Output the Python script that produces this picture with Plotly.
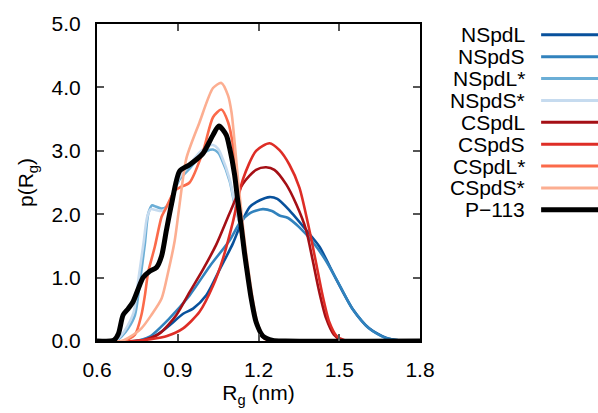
import plotly.graph_objects as go

# ---------------- data ----------------
series_names = ["NSpdL", "NSpdS", "NSpdL*", "NSpdS*", "CSpdL", "CSpdS", "CSpdL*", "CSpdS*", "P\u2212113"]
series_colors = ["#08519c", "#3182bd", "#6baed6", "#c6dbef", "#a50f15", "#de2d26", "#fb6a4a", "#fcae91", "#000000"]
series_widths = [2.6, 2.6, 2.6, 2.6, 2.6, 2.6, 2.6, 2.6, 5.0]

nspdl_x = [0.60, 0.75, 0.80, 0.84, 0.87, 0.92, 0.957, 1.006, 1.056, 1.105, 1.13, 1.167, 1.205, 1.241, 1.27, 1.315, 1.377, 1.426, 1.488, 1.549, 1.611, 1.673, 1.72, 1.80]
nspdl_y = [0.00, 0.00, 0.05, 0.15, 0.25, 0.43, 0.51, 0.72, 1.13, 1.54, 1.80, 2.11, 2.22, 2.27, 2.24, 2.06, 1.75, 1.49, 0.98, 0.51, 0.20, 0.05, 0.01, 0.00]

nspds_x = [0.60, 0.74, 0.796, 0.87, 0.944, 1.019, 1.093, 1.13, 1.17, 1.216, 1.25, 1.278, 1.31, 1.35, 1.40, 1.45, 1.50, 1.55, 1.61, 1.67, 1.72, 1.80]
nspds_y = [0.00, 0.00, 0.07, 0.36, 0.72, 1.18, 1.59, 1.86, 2.02, 2.08, 2.05, 1.98, 1.94, 1.80, 1.57, 1.27, 0.89, 0.50, 0.20, 0.05, 0.01, 0.00]

nspdls_x = [0.60, 0.67, 0.691, 0.716, 0.741, 0.759, 0.778, 0.79, 0.805, 0.818, 0.84, 0.858, 0.88, 0.907, 0.944, 0.98, 1.01, 1.031, 1.05, 1.062, 1.093, 1.111, 1.13, 1.15, 1.17, 1.19, 1.21, 1.24, 1.80]
nspdls_y = [0.00, 0.00, 0.07, 0.20, 0.41, 0.92, 1.54, 2.00, 2.14, 2.12, 2.09, 2.12, 2.30, 2.55, 2.72, 2.90, 3.00, 3.02, 2.97, 2.88, 2.52, 2.16, 1.85, 1.30, 0.75, 0.35, 0.12, 0.02, 0.00]

nspdss_x = [0.60, 0.665, 0.686, 0.711, 0.736, 0.754, 0.773, 0.786, 0.80, 0.815, 0.84, 0.858, 0.88, 0.907, 0.944, 0.98, 1.01, 1.031, 1.05, 1.062, 1.093, 1.111, 1.13, 1.15, 1.17, 1.19, 1.21, 1.24, 1.80]
nspdss_y = [0.00, 0.00, 0.07, 0.22, 0.45, 0.98, 1.55, 1.95, 2.08, 2.07, 2.05, 2.10, 2.30, 2.58, 2.78, 2.97, 3.07, 3.09, 3.03, 2.93, 2.55, 2.18, 1.86, 1.30, 0.75, 0.35, 0.12, 0.02, 0.00]

cspdl_x = [0.60, 0.74, 0.778, 0.833, 0.895, 0.944, 0.994, 1.043, 1.093, 1.142, 1.191, 1.228, 1.259, 1.303, 1.34, 1.377, 1.401, 1.426, 1.451, 1.48, 1.51, 1.80]
cspdl_y = [0.00, 0.00, 0.02, 0.12, 0.41, 0.77, 1.13, 1.52, 2.02, 2.48, 2.70, 2.74, 2.70, 2.47, 2.16, 1.75, 1.28, 0.77, 0.36, 0.10, 0.01, 0.00]

cspds_x = [0.60, 0.74, 0.80, 0.86, 0.92, 0.981, 1.031, 1.068, 1.105, 1.142, 1.191, 1.241, 1.278, 1.315, 1.352, 1.389, 1.414, 1.438, 1.463, 1.49, 1.52, 1.80]
cspds_y = [0.00, 0.00, 0.03, 0.08, 0.20, 0.46, 0.87, 1.30, 1.88, 2.55, 3.00, 3.12, 3.01, 2.78, 2.42, 1.75, 1.23, 0.72, 0.30, 0.08, 0.01, 0.00]

cspdls_x = [0.60, 0.70, 0.741, 0.765, 0.778, 0.79, 0.815, 0.84, 0.852, 0.889, 0.907, 0.944, 0.994, 1.031, 1.062, 1.087, 1.105, 1.12, 1.135, 1.15, 1.165, 1.18, 1.20, 1.225, 1.80]
cspdls_y = [0.00, 0.00, 0.10, 0.41, 0.72, 1.08, 1.49, 1.96, 2.06, 2.37, 2.42, 2.50, 2.99, 3.53, 3.65, 3.45, 3.09, 2.50, 1.90, 1.35, 0.90, 0.50, 0.18, 0.03, 0.00]

cspdss_x = [0.60, 0.69, 0.716, 0.765, 0.802, 0.84, 0.864, 0.889, 0.907, 0.932, 0.981, 1.031, 1.062, 1.087, 1.10, 1.112, 1.125, 1.14, 1.152, 1.165, 1.178, 1.195, 1.22, 1.245, 1.80]
cspdss_y = [0.00, 0.00, 0.05, 0.20, 0.41, 0.67, 1.08, 1.59, 2.16, 2.88, 3.45, 3.99, 4.07, 3.87, 3.60, 3.10, 2.50, 1.90, 1.45, 1.05, 0.68, 0.30, 0.07, 0.01, 0.00]

p113_x = [0.60, 0.65, 0.665, 0.68, 0.697, 0.716, 0.734, 0.753, 0.771, 0.796, 0.821, 0.84, 0.858, 0.877, 0.907, 0.944, 0.994, 1.031, 1.053, 1.08, 1.093, 1.111, 1.123, 1.136, 1.148, 1.16, 1.173, 1.191, 1.216, 1.253, 1.30, 1.80]
p113_y = [0.00, 0.00, 0.02, 0.12, 0.41, 0.51, 0.62, 0.82, 1.00, 1.10, 1.16, 1.34, 1.75, 2.16, 2.68, 2.78, 2.96, 3.25, 3.39, 3.25, 3.04, 2.63, 2.21, 1.80, 1.39, 1.03, 0.67, 0.30, 0.08, 0.01, 0.00, 0.00]

series_x = [nspdl_x, nspds_x, nspdls_x, nspdss_x, cspdl_x, cspds_x, cspdls_x, cspdss_x, p113_x]
series_y = [nspdl_y, nspds_y, nspdls_y, nspdss_y, cspdl_y, cspds_y, cspdls_y, cspdss_y, p113_y]

x_ticks = [0.6, 0.9, 1.2, 1.5, 1.8]
y_ticks = [0.0, 1.0, 2.0, 3.0, 4.0, 5.0]

FONT = "Liberation Sans, Arial, sans-serif"
FS = 21

fig = go.Figure()
for name, xs, ys, col, w in zip(series_names, series_x, series_y, series_colors, series_widths):
    fig.add_trace(go.Scatter(x=xs, y=ys, mode="lines", name=name,
                             line=dict(color=col, width=w, shape="spline", smoothing=0.7),
                             showlegend=False, hoverinfo="skip"))

# legend drawn gnuplot-style: right-aligned text, sample line to its right
shapes = []
annotations = []
row0 = 0.966
step = 0.069
for i, (name, col, w) in enumerate(zip(series_names, series_colors, series_widths)):
    yy = row0 - i * step
    annotations.append(dict(x=1.331, y=yy, xref="paper", yref="paper", text=name,
                            showarrow=False, xanchor="right", yanchor="middle",
                            font=dict(family=FONT, size=FS, color="black")))
    shapes.append(dict(type="line", xref="paper", yref="paper", x0=1.375, x1=1.555,
                       y0=yy, y1=yy, line=dict(color=col, width=w if w > 3 else 3)))

axis_common = dict(showline=True, linecolor="black", linewidth=2, mirror="allticks",
                   ticks="inside", ticklen=7, tickwidth=1.5, tickcolor="#555",
                   showgrid=False, zeroline=False,
                   tickfont=dict(family=FONT, size=FS, color="black"))

fig.update_layout(
    width=598, height=413,
    margin=dict(l=97, r=178, t=20, b=70),
    paper_bgcolor="white", plot_bgcolor="white",
    shapes=shapes, annotations=annotations,
    xaxis=dict(range=[0.6, 1.8], tickvals=x_ticks, ticktext=[f"{v:.1f}" for v in x_ticks],
               ticklabelstandoff=9,
               title=dict(text="R<sub>g</sub> (nm)", font=dict(family=FONT, size=FS, color="black"), standoff=5),
               **axis_common),
    yaxis=dict(range=[0, 5], tickvals=y_ticks, ticktext=[f"{v:.1f}" for v in y_ticks],
               ticklabelstandoff=10,
               title=dict(text="p(R<sub>g</sub>)", font=dict(family=FONT, size=FS, color="black"), standoff=12),
               **axis_common),
)

fig.write_html("out.html")
